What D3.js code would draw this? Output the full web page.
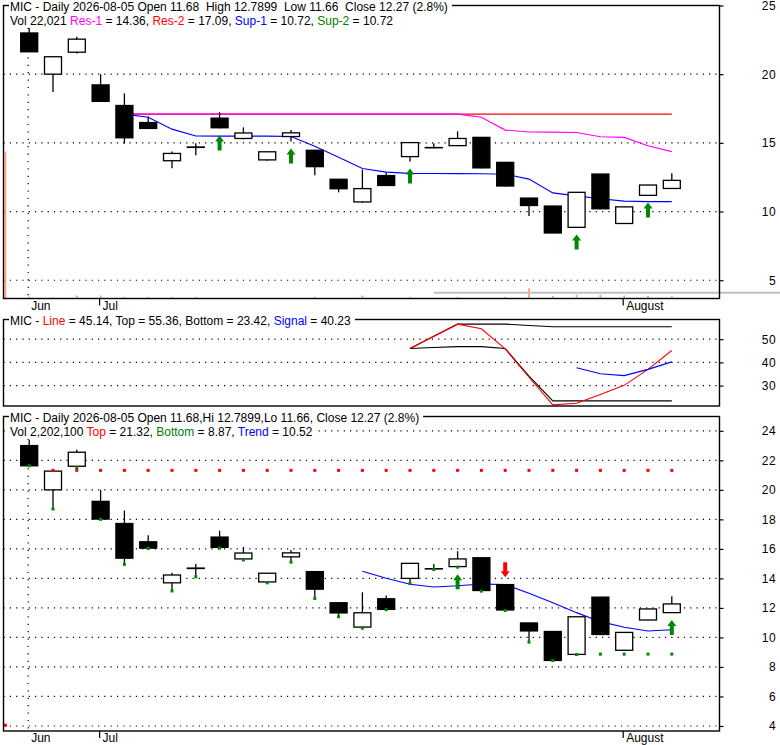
<!DOCTYPE html>
<html>
<head>
<meta charset="utf-8">
<script src="https://cdn.jsdelivr.net/npm/d3@7"></script>
<style>
  body { margin: 0; background: #fff; }
  svg { font-family: "Liberation Sans", Arial, sans-serif; font-size: 12px; }
</style>
</head>
<body>
<svg id="chart" width="780" height="745"></svg>
<script>
// ---- data (index -1 is the last May session, 0 = first June session) ----
const days = [-1,0,1,2,3,4,5,6,7,8,9,10,11,12,13,14,15,16,17,18,19,20,21,22,23,24,25,26,27]
const opens  = [4.08,23.0,20.0,21.6,19.22,17.72,16.48,13.7,14.7,16.8,15.32,13.76,15.46,14.46,12.35,10.7,12.62,14.0,14.66,14.8,15.4,13.58,10.98,10.4,8.85,12.73,9.13,11.18,11.68]
const highs  = [4.08,23.4,21.27,22.72,20.0,18.6,16.92,14.38,14.97,17.23,16.13,14.37,15.93,14.48,12.37,13.06,12.84,15.02,14.97,15.84,15.42,13.6,11.0,10.42,11.4,12.75,10.36,11.95,12.7899]
const lows   = [4.08,21.63,18.7,21.5,18.0,14.95,16.03,13.15,14.1,16.05,15.25,13.7,15.1,12.64,11.4,10.63,11.88,13.65,14.6,14.76,13.14,11.82,9.68,8.43,8.84,10.18,9.1,11.16,11.66]
const closes = [4.08,21.63,21.27,22.55,18.02,15.37,16.05,14.23,14.67,16.1,15.72,14.35,15.73,13.27,11.66,11.67,11.9,15.02,14.64,15.32,13.18,11.86,10.44,8.44,11.4,10.2,10.34,11.93,12.27]
const volumes = [1470000,15000,3000,30000,30000,15000,15000,15000,15000,3000,3000,3000,3000,15000,3000,30000,3000,15000,3000,15000,3000,15000,102000,25000,37000,37000,30000,25000,22021]

// resistance / support lines (price panel)
const res1 = [null,null,null,null,null,17.09,17.09,17.09,17.09,17.09,17.09,17.09,17.09,17.09,17.09,17.09,17.09,17.09,17.09,17.09,16.86,15.93,15.79,15.78,15.76,15.44,15.4,14.79,14.36]
const res2 = [null,null,null,null,null,17.09,17.09,17.09,17.09,17.09,17.09,17.09,17.09,17.09,17.09,17.09,17.09,17.09,17.09,17.09,17.09,17.09,17.09,17.09,17.09,17.09,17.09,17.09,17.09]
const sup1 = [null,null,null,null,null,17.09,16.86,16.0,15.5,15.49,15.49,15.49,15.46,14.75,13.96,13.13,12.87,12.78,12.77,12.76,12.75,12.72,12.36,11.36,11.14,10.93,10.76,10.72,10.72]
const sup2Last = 10.72
const upArrowsPrice = [8,11,16,23,26]

// oscillator panel
const oscLine   = [null,null,null,null,null,null,null,null,null,null,null,null,null,null,null,null,null,46.0,51.3,56.5,54.5,45.8,33.6,21.7,22.4,26.2,30.1,37.0,45.14]
const oscTop    = [null,null,null,null,null,null,null,null,null,null,null,null,null,null,null,null,null,46.0,51.3,56.5,56.5,56.5,55.9,55.4,55.36,55.36,55.36,55.36,55.36]
const oscBottom = [null,null,null,null,null,null,null,null,null,null,null,null,null,null,null,null,null,46.0,46.4,46.8,46.8,46.0,34.1,23.42,23.42,23.42,23.42,23.42,23.42]
const oscSignal = [null,null,null,null,null,null,null,null,null,null,null,null,null,null,null,null,null,null,null,null,null,null,null,null,37.7,35.1,34.3,37.0,40.23]

// top / bottom / trend panel
const stopTop    = [4.05,null,21.32,21.32,21.32,21.32,21.32,21.32,21.32,21.32,21.32,21.32,21.32,21.32,21.32,21.32,21.32,21.32,21.32,21.32,21.32,21.32,21.32,21.32,21.32,21.32,21.32,21.32,21.32]
const stopBottom = [null,21.63,18.7,21.5,18.0,14.95,16.03,13.15,14.1,16.05,15.25,13.7,15.1,12.64,11.4,10.63,11.88,13.65,14.6,14.76,13.14,11.82,9.68,8.43,8.84,8.87,8.87,8.87,8.87]
const trend = [null,null,null,null,null,null,null,null,null,null,null,null,null,null,null,14.49,14.01,13.6,13.42,13.5,13.62,13.58,13.0,12.35,11.68,11.07,10.69,10.44,10.52]
const upArrowsTrend = [18,27]
const downArrowsTrend = [20]

// month labels
const months = [
  {label: "Jun", day: 0, grid: true},
  {label: "Jul", day: 3, grid: false},
  {label: "August", day: 25, grid: false},
]

const priceTicks = [5,10,15,20,25]
const oscTicks = [30,40,50]
const trendTicks = [4,6,8,10,12,14,16,18,20,22,24]

// ---- layout ----
const plotLeft = 3.5
const plotRight = 719.5
const labelRight = 776
const pPrice = {top: 5.5, bottom: 298.5}
const pOsc = {top: 319.5, bottom: 406}
const pTrend = {top: 416.5, bottom: 731}

const svg = d3.select("#chart")
const last = days.length - 1
const n = i => days.indexOf(i)
const sp2 = "\u00a0 "

const x = d3.scaleLinear().domain([-1, 27]).range([5.4, 671.8])
const yPrice = d3.scaleLinear().domain([3.67, 25.0]).range([pPrice.bottom, pPrice.top])
const yVol = d3.scaleLinear().domain([0, 2930000]).range([pPrice.bottom, pPrice.top])
const yOsc = d3.scaleLinear().domain([21.2, 58.5]).range([pOsc.bottom, pOsc.top])
const yTrend = d3.scaleLinear().domain([3.66, 24.97]).range([pTrend.bottom, pTrend.top])

const green = "#008800"

function gridY(g, y, ticks, p) {
  g.append("g").selectAll("line")
    .data(ticks.filter(t => y(t) > p.top + 2))
    .join("line")
      .attr("x1", plotLeft).attr("x2", plotRight)
      .attr("y1", d => y(d)).attr("y2", d => y(d))
      .attr("stroke", "#000").attr("stroke-width", 1.2)
      .attr("stroke-dasharray", "1.2,5.1")
}

function gridMonths(g, p) {
  g.append("g").selectAll("line")
    .data(months.filter(m => m.grid))
    .join("line")
      .attr("x1", d => x(d.day) - 1).attr("x2", d => x(d.day) - 1)
      .attr("y1", p.top).attr("y2", p.bottom)
      .attr("stroke", "#000").attr("stroke-width", 1.2)
      .attr("stroke-dasharray", "1.2,6.2")
}

function monthAxis(g, p) {
  const m = g.append("g")
  m.selectAll("line")
    .data(months.filter(d => !d.grid))
    .join("line")
      .attr("x1", d => x(d.day) - 1).attr("x2", d => x(d.day) - 1)
      .attr("y1", p.bottom).attr("y2", p.bottom + 7)
      .attr("stroke", "#000").attr("stroke-width", 1.2)
  m.selectAll("text")
    .data(months)
    .join("text")
      .attr("x", d => x(d.day) + 2)
      .attr("y", p.bottom + 11)
      .attr("fill", "#000")
      .text(d => d.label)
}

function rightAxis(g, y, ticks) {
  const ax = g.append("g")
    .attr("transform", `translate(${plotRight},0)`)
    .call(d3.axisRight(y).tickValues(ticks).tickSize(4).tickFormat(d3.format("d")))
  ax.select(".domain").remove()
  ax.selectAll(".tick line").attr("stroke", "#000").attr("stroke-width", 1.2)
  ax.selectAll("text")
    .attr("x", labelRight - plotRight)
    .style("text-anchor", "end")
    .style("font-size", "12px")
    .style("letter-spacing", "0.4px")
    .style("font-family", "'Liberation Sans', Arial, sans-serif")
    .attr("fill", "#000")
}

function lineOf(g, y, vals, color, w) {
  const pts = days.map((d, k) => [d, vals[k]]).filter(p => p[1] != null)
  g.append("path")
    .datum(pts)
    .attr("fill", "none")
    .attr("stroke", color)
    .attr("stroke-width", w || 1.1)
    .attr("d", d3.line().x(p => x(p[0])).y(p => y(p[1])))
}

function candles(g, y) {
  const data = days.map((d, k) => ({d, o: opens[k], h: highs[k], l: lows[k], c: closes[k]}))
  const c = g.append("g")
  c.selectAll("line")
    .data(data)
    .join("line")
      .attr("x1", d => x(d.d)).attr("x2", d => x(d.d))
      .attr("y1", d => y(d.h)).attr("y2", d => y(d.l))
      .attr("stroke", "#000").attr("stroke-width", 1.3)
  c.selectAll("rect")
    .data(data)
    .join("rect")
      .attr("x", d => x(d.d) - 8.5)
      .attr("width", 17)
      .attr("y", d => y(Math.max(d.o, d.c)))
      .attr("height", d => Math.abs(y(d.o) - y(d.c)))
      .attr("fill", d => d.c <= d.o ? "#000" : "#fff")
      .attr("stroke", "#000").attr("stroke-width", 1.3)
}

function arrow(cx, tip, dir) {
  // dir 1 = up arrow (tip on top), -1 = down arrow
  const s = dir
  return `M${cx},${tip} L${cx + 4.5},${tip + 6 * s} L${cx + 2},${tip + 6 * s} L${cx + 2},${tip + 15 * s} ` +
         `L${cx - 2},${tip + 15 * s} L${cx - 2},${tip + 6 * s} L${cx - 4.5},${tip + 6 * s} Z`
}

function border(g, p) {
  g.append("rect")
    .attr("x", plotLeft).attr("y", p.top)
    .attr("width", plotRight - plotLeft).attr("height", p.bottom - p.top)
    .attr("fill", "none").attr("stroke", "#000").attr("stroke-width", 1.4)
}

function header(g, p, lines) {
  const hdr = g.append("g")
  lines.forEach((parts, li) => {
    const t = hdr.append("text")
      .attr("x", 10)
      .attr("y", p.top + 5.2 + li * 14)
    parts.forEach(pt => {
      t.append("tspan").attr("fill", pt[1] || "#000").text(pt[0])
    })
    const bb = t.node().getBBox()
    hdr.insert("rect", "text")
      .attr("x", bb.x - 1)
      .attr("y", bb.y)
      .attr("width", bb.width + 5)
      .attr("height", bb.height)
      .attr("fill", "#fff")
  })
}

const fmt = d3.format(",")
const pct = ((closes[last] - closes[last - 1]) / closes[last - 1] * 100).toFixed(1)

// ---- price panel ----
const gP = svg.append("g")
gridY(gP, yPrice, priceTicks, pPrice)
gridMonths(gP, pPrice)

gP.append("g").selectAll("rect")
  .data(days.map((d, k) => ({d, v: volumes[k]})))
  .join("rect")
    .attr("x", d => x(d.d) - 0.9)
    .attr("width", 1.8)
    .attr("y", d => yVol(d.v))
    .attr("height", d => pPrice.bottom - yVol(d.v))
    .attr("fill", "#ffa07a")

gP.append("line")
  .attr("x1", x(17)).attr("x2", 780)
  .attr("y1", yPrice(closes[0])).attr("y2", yPrice(closes[0]))
  .attr("stroke", "#c0c0c0").attr("stroke-width", 2)

lineOf(gP, yPrice, res2, "#ff0000")
lineOf(gP, yPrice, res1, "#ff00ff")
lineOf(gP, yPrice, sup1, "#0000ff")
candles(gP, yPrice)

gP.append("g").selectAll("path")
  .data(upArrowsPrice)
  .join("path")
    .attr("d", d => arrow(x(d), yPrice(lows[n(d)]) + 7, 1))
    .attr("fill", green)

border(gP, pPrice)
rightAxis(gP, yPrice, priceTicks)
monthAxis(gP, pPrice)
header(gP, pPrice, [
  [[`MIC - Daily 2026-08-05 Open ${opens[last]}${sp2}High ${highs[last]}${sp2}Low ${lows[last]}${sp2}Close ${closes[last]} (${pct}%)`]],
  [[`Vol ${fmt(volumes[last])} `], ["Res-1", "#ff00ff"], [` = ${res1[last]}, `], ["Res-2", "#ff0000"],
   [` = ${res2[last]}, `], ["Sup-1", "#0000ff"], [` = ${sup1[last]}, `], ["Sup-2", "#008000"], [` = ${sup2Last}`]]
])

// ---- oscillator panel ----
const gO = svg.append("g")
gridY(gO, yOsc, oscTicks, pOsc)
lineOf(gO, yOsc, oscTop, "#000")
lineOf(gO, yOsc, oscBottom, "#000")
lineOf(gO, yOsc, oscLine, "#ff0000")
lineOf(gO, yOsc, oscSignal, "#0000ff")
border(gO, pOsc)
rightAxis(gO, yOsc, oscTicks)
header(gO, pOsc, [
  [["MIC - "], ["Line", "#ff0000"], [` = ${oscLine[last]}, Top = ${oscTop[last]}, Bottom = ${oscBottom[last]}, `],
   ["Signal", "#0000ff"], [` = ${oscSignal[last]}`]]
])

// ---- top / bottom / trend panel ----
const gT = svg.append("g")
gridY(gT, yTrend, trendTicks, pTrend)
gridMonths(gT, pTrend)
lineOf(gT, yTrend, trend, "#0000ff")
candles(gT, yTrend)

gT.append("g").selectAll("rect")
  .data(days.map((d, k) => ({d, v: stopTop[k]})).filter(p => p.v != null))
  .join("rect")
    .attr("x", d => x(d.d) - 1.5).attr("y", d => yTrend(d.v) - 1.5)
    .attr("width", 3).attr("height", 3)
    .attr("fill", "#ff0000")

gT.append("g").selectAll("rect")
  .data(days.map((d, k) => ({d, v: stopBottom[k]})).filter(p => p.v != null))
  .join("rect")
    .attr("x", d => x(d.d) - 1.5).attr("y", d => yTrend(d.v) - 1.5)
    .attr("width", 3).attr("height", 3)
    .attr("fill", green)

gT.append("g").selectAll("path")
  .data(upArrowsTrend)
  .join("path")
    .attr("d", d => arrow(x(d), yTrend(lows[n(d)]) + 7, 1))
    .attr("fill", green)

gT.append("g").selectAll("path")
  .data(downArrowsTrend)
  .join("path")
    .attr("d", d => arrow(x(d), yTrend(highs[n(d)]) - 7, -1))
    .attr("fill", "#ff0000")

border(gT, pTrend)
rightAxis(gT, yTrend, trendTicks)
monthAxis(gT, pTrend)
header(gT, pTrend, [
  [[`MIC - Daily 2026-08-05 Open ${opens[last]},Hi ${highs[last]},Lo ${lows[last]}, Close ${closes[last]} (${pct}%)`]],
  [[`Vol ${fmt(volumes[last] * 100)} `], ["Top", "#ff0000"], [` = ${stopTop[last]}, `], ["Bottom", "#008000"],
   [` = ${stopBottom[last]}, `], ["Trend", "#0000ff"], [` = ${trend[last]}`]]
])
</script>
</body>
</html>
